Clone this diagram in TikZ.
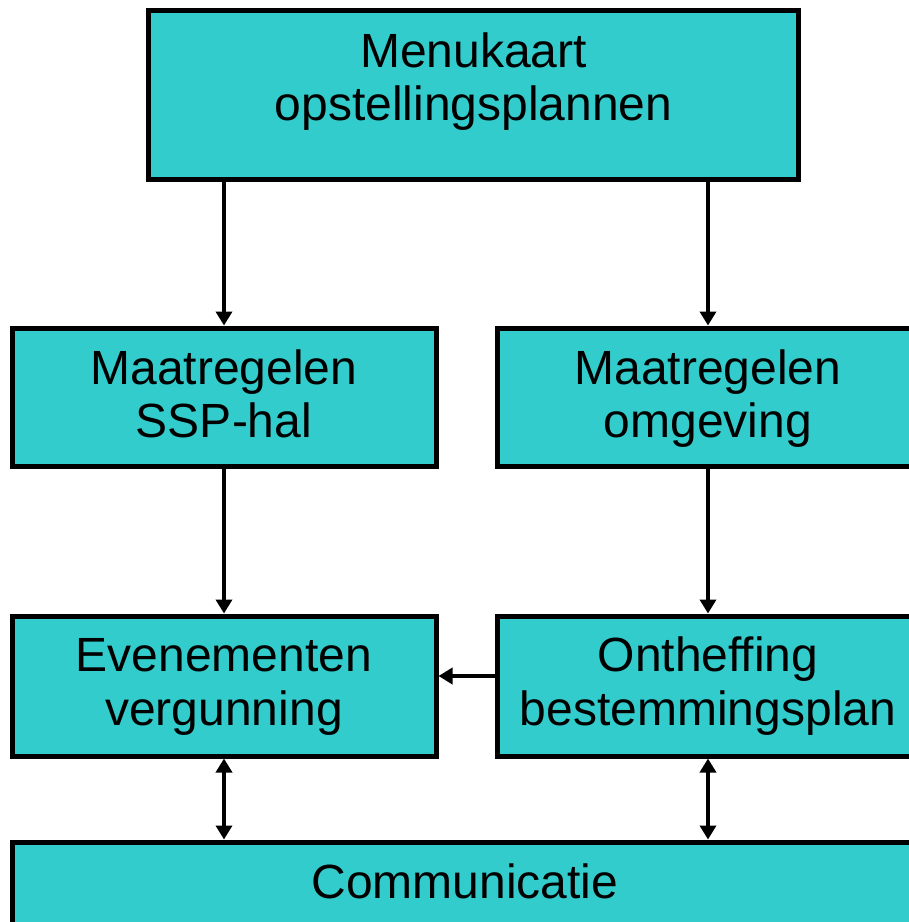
\documentclass[tikz,border=0pt]{standalone}
\usepackage{fontspec}
\setmainfont{Liberation Sans}
\usetikzlibrary{arrows.meta}
\definecolor{boxfill}{HTML}{33CCCC}
\tikzset{
  box/.style={draw=black, fill=boxfill, line width=5pt, rectangle, inner sep=0pt},
  lbl/.style={anchor=base, inner sep=0pt, font=\fontsize{48}{53}\selectfont},
  arr/.style={line width=4pt, -{Triangle[length=14pt,width=16pt]}},
  darr/.style={line width=4pt, {Triangle[length=14pt,width=16pt]}-{Triangle[length=14pt,width=16pt]}}
}
\begin{document}
\begin{tikzpicture}[x=1pt,y=-1pt]
\clip (0,0) rectangle (909,922);
\fill[white] (0,0) rectangle (909,922);
% boxes
\node[box, minimum width=650pt, minimum height=169pt] (top) at (473.5,95) {};
\node[box, minimum width=424pt, minimum height=138pt] (midL) at (224,397) {};
\node[box, minimum width=422pt, minimum height=138pt] (midR) at (708,397) {};
\node[box, minimum width=424pt, minimum height=140pt] (botL) at (224,686) {};
\node[box, minimum width=422pt, minimum height=140pt] (botR) at (708,686) {};
\node[box, minimum width=905pt, minimum height=150pt] (comm) at (465,917) {};
% labels
\node[lbl] (t1) at (473.5,67) {Menukaart};
\node[lbl] (t2) at (473.5,120) {opstellingsplannen};
\node[lbl] (ml1) at (224,384) {Maatregelen};
\node[lbl] (ml2) at (224,437) {SSP-hal};
\node[lbl] (mr1) at (708,384) {Maatregelen};
\node[lbl] (mr2) at (708,437) {omgeving};
\node[lbl] (bl1) at (224,671.5) {Evenementen};
\node[lbl] (bl2) at (224,725) {vergunning};
\node[lbl] (br1) at (708,671.5) {Ontheffing};
\node[lbl] (br2) at (708,725) {bestemmingsplan};
\node[lbl] (c1) at (465,898) {Communicatie};
% connectors
\draw[arr] (top.south -| midL.north) -- (midL.north);
\draw[arr] (top.south -| midR.north) -- (midR.north);
\draw[arr] (midL.south) -- (botL.north);
\draw[arr] (midR.south) -- (botR.north);
\draw[arr] ([yshift=10pt]botR.west) -- ([yshift=10pt]botL.east);
\draw[darr] (botL.south) -- (comm.north -| botL.south);
\draw[darr] (botR.south) -- (comm.north -| botR.south);
\end{tikzpicture}
\end{document}
